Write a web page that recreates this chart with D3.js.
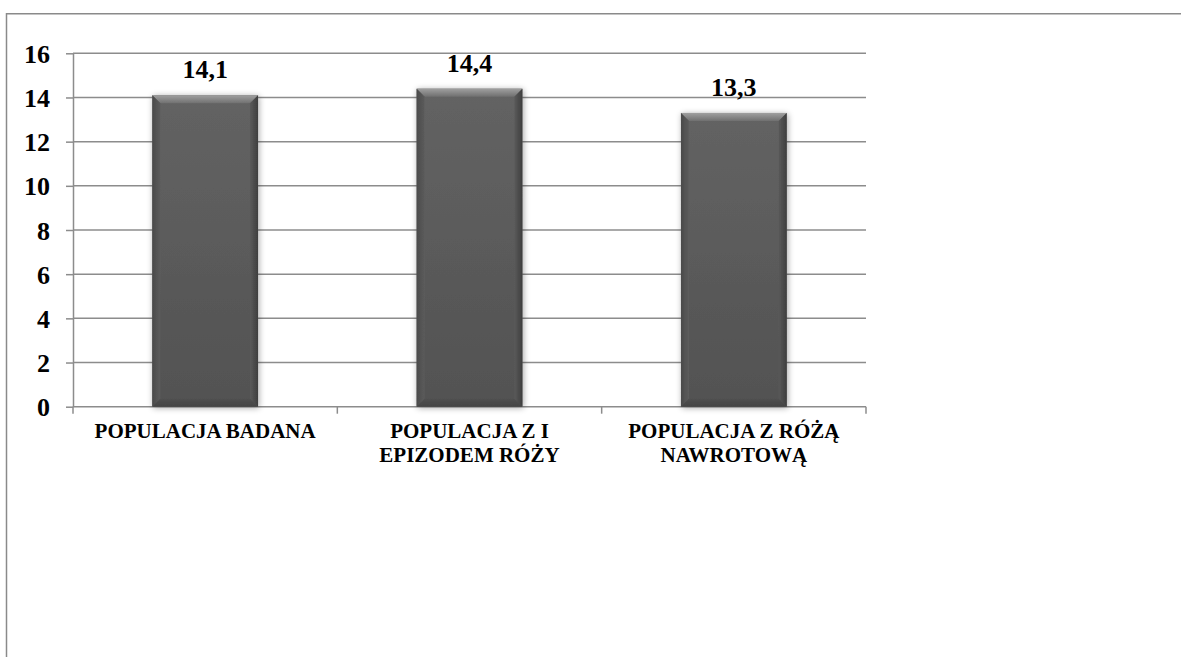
<!DOCTYPE html>
<html>
<head>
<meta charset="utf-8">
<script src="https://cdn.jsdelivr.net/npm/d3@7"></script>
</head>
<body style="margin:0">
<script>
// Chart data
const categories = ["POPULACJA BADANA", "POPULACJA Z I EPIZODEM RÓŻY", "POPULACJA Z RÓŻĄ NAWROTOWĄ"];
const categoryLines = [["POPULACJA BADANA"], ["POPULACJA Z I", "EPIZODEM RÓŻY"], ["POPULACJA Z RÓŻĄ", "NAWROTOWĄ"]];
const values = [14.1, 14.4, 13.3];
const valueLabels = ["14,1", "14,4", "13,3"];
const yTicks = [0, 2, 4, 6, 8, 10, 12, 14, 16];

const W = 1181, H = 657;
const plot = { left: 73, right: 866, top: 53.3, bottom: 406.7 };
const fontFamily = "'Liberation Serif', 'Times New Roman'";

const svg = d3.select("body").append("svg")
  .attr("width", W).attr("height", H)
  .style("display", "block");

const defs = svg.append("defs");

// Bar body gradient
const body = defs.append("linearGradient").attr("id", "barBody")
  .attr("x1", 0).attr("y1", 0).attr("x2", 0).attr("y2", 1);
body.append("stop").attr("offset", "0%").attr("stop-color", "#636363");
body.append("stop").attr("offset", "100%").attr("stop-color", "#525252");

const topBevel = defs.append("linearGradient").attr("id", "bevelTop")
  .attr("x1", 0).attr("y1", 0).attr("x2", 0).attr("y2", 1);
topBevel.append("stop").attr("offset", "0%").attr("stop-color", "#a0a0a0");
topBevel.append("stop").attr("offset", "100%").attr("stop-color", "#707070");

const leftBevel = defs.append("linearGradient").attr("id", "bevelLeft")
  .attr("x1", 0).attr("y1", 0).attr("x2", 1).attr("y2", 0);
leftBevel.append("stop").attr("offset", "0%").attr("stop-color", "#4a4a4a");
leftBevel.append("stop").attr("offset", "100%").attr("stop-color", "#5c5c5c");

const rightBevel = defs.append("linearGradient").attr("id", "bevelRight")
  .attr("x1", 0).attr("y1", 0).attr("x2", 1).attr("y2", 0);
rightBevel.append("stop").attr("offset", "0%").attr("stop-color", "#5a5a5a");
rightBevel.append("stop").attr("offset", "100%").attr("stop-color", "#3e3e3e");

const bottomBevel = defs.append("linearGradient").attr("id", "bevelBottom")
  .attr("x1", 0).attr("y1", 0).attr("x2", 0).attr("y2", 1);
bottomBevel.append("stop").attr("offset", "0%").attr("stop-color", "#505050");
bottomBevel.append("stop").attr("offset", "100%").attr("stop-color", "#444444");

const shadow = defs.append("filter").attr("id", "barShadow")
  .attr("x", "-20%").attr("y", "-10%").attr("width", "140%").attr("height", "120%");
shadow.append("feGaussianBlur").attr("in", "SourceAlpha").attr("stdDeviation", 3).attr("result", "blur");
shadow.append("feOffset").attr("in", "blur").attr("dx", 1).attr("dy", 1).attr("result", "off");
shadow.append("feComponentTransfer").attr("in", "off").attr("result", "soft")
  .append("feFuncA").attr("type", "linear").attr("slope", 0.35);
const merge = shadow.append("feMerge");
merge.append("feMergeNode").attr("in", "soft");
merge.append("feMergeNode").attr("in", "SourceGraphic");

// Outer frame (top and left edges)
svg.append("line").attr("x1", 6.5).attr("x2", W).attr("y1", 13.75).attr("y2", 13.75)
  .attr("stroke", "#8a8a8a").attr("stroke-width", 1.5);
svg.append("line").attr("x1", 6.5).attr("x2", 6.5).attr("y1", 13).attr("y2", H)
  .attr("stroke", "#8a8a8a").attr("stroke-width", 1.5);

// Scales
const x = d3.scaleBand().domain(categories)
  .range([plot.left, plot.right]).paddingInner(0.6).paddingOuter(0.3);
const y = d3.scaleLinear().domain([0, 16]).range([plot.bottom, plot.top]);

const gridColor = "#8c8c8c";

// Horizontal gridlines
svg.append("g").selectAll("line")
  .data(yTicks.filter(t => t > 0))
  .join("line")
  .attr("x1", plot.left).attr("x2", plot.right)
  .attr("y1", d => y(d)).attr("y2", d => y(d))
  .attr("stroke", gridColor).attr("stroke-width", 1.5);

// Y axis
const yAxis = svg.append("g")
  .attr("transform", `translate(${plot.left},0)`)
  .call(d3.axisLeft(y).tickValues(yTicks).tickSize(7).tickPadding(16).tickSizeOuter(0));
yAxis.select(".domain").attr("stroke", gridColor).attr("stroke-width", 1.5);
yAxis.selectAll(".tick line").attr("stroke", gridColor).attr("stroke-width", 1.5);
yAxis.selectAll(".tick text")
  .attr("font-family", fontFamily).attr("font-size", 26).attr("font-weight", "bold")
  .attr("fill", "#000").attr("dy", "0.35em");

// X axis baseline with ticks at category boundaries
svg.append("line").attr("x1", plot.left).attr("x2", plot.right)
  .attr("y1", y(0)).attr("y2", y(0))
  .attr("stroke", gridColor).attr("stroke-width", 1.5);
svg.append("g").selectAll("line")
  .data(d3.range(categories.length + 1))
  .join("line")
  .attr("x1", i => plot.left + x.step() * i)
  .attr("x2", i => plot.left + x.step() * i)
  .attr("y1", y(0)).attr("y2", y(0) + 7)
  .attr("stroke", gridColor).attr("stroke-width", 1.5);

// Bars with bevelled edges
const bev = 8;
const rows = categories.map((c, i) => ({ c, v: values[i], label: valueLabels[i], lines: categoryLines[i] }));
const bars = svg.append("g").selectAll("g")
  .data(rows)
  .join("g")
  .attr("filter", "url(#barShadow)");

bars.append("rect")
  .attr("x", d => x(d.c)).attr("y", d => y(d.v))
  .attr("width", x.bandwidth()).attr("height", d => y(0) - y(d.v))
  .attr("fill", "url(#barBody)");

bars.append("polygon").attr("fill", "url(#bevelTop)")
  .attr("points", d => {
    const x0 = x(d.c), x1 = x0 + x.bandwidth(), t = y(d.v);
    return `${x0},${t} ${x1},${t} ${x1 - bev},${t + bev} ${x0 + bev},${t + bev}`;
  });
bars.append("polygon").attr("fill", "url(#bevelLeft)")
  .attr("points", d => {
    const x0 = x(d.c), t = y(d.v), b = y(0);
    return `${x0},${t} ${x0 + bev},${t + bev} ${x0 + bev},${b - bev} ${x0},${b}`;
  });
bars.append("polygon").attr("fill", "url(#bevelRight)")
  .attr("points", d => {
    const x1 = x(d.c) + x.bandwidth(), t = y(d.v), b = y(0);
    return `${x1},${t} ${x1 - bev},${t + bev} ${x1 - bev},${b - bev} ${x1},${b}`;
  });
bars.append("polygon").attr("fill", "url(#bevelBottom)")
  .attr("points", d => {
    const x0 = x(d.c), x1 = x0 + x.bandwidth(), b = y(0);
    return `${x0},${b} ${x0 + bev},${b - bev} ${x1 - bev},${b - bev} ${x1},${b}`;
  });

// Value labels
svg.append("g").selectAll("text")
  .data(rows)
  .join("text")
  .attr("x", d => x(d.c) + x.bandwidth() / 2)
  .attr("y", d => y(d.v) - 17)
  .attr("text-anchor", "middle")
  .attr("font-family", fontFamily).attr("font-size", 26).attr("font-weight", "bold")
  .attr("fill", "#000")
  .text(d => d.label);

// Category labels
const catG = svg.append("g").selectAll("text")
  .data(rows)
  .join("text")
  .attr("text-anchor", "middle")
  .attr("font-family", fontFamily).attr("font-size", 21).attr("font-weight", "bold")
  .attr("fill", "#000");
catG.selectAll("tspan")
  .data(d => d.lines.map((l, j) => ({ l, j, c: d.c })))
  .join("tspan")
  .attr("x", d => x(d.c) + x.bandwidth() / 2)
  .attr("y", d => 437.5 + d.j * 24)
  .text(d => d.l);
</script>
</body>
</html>
